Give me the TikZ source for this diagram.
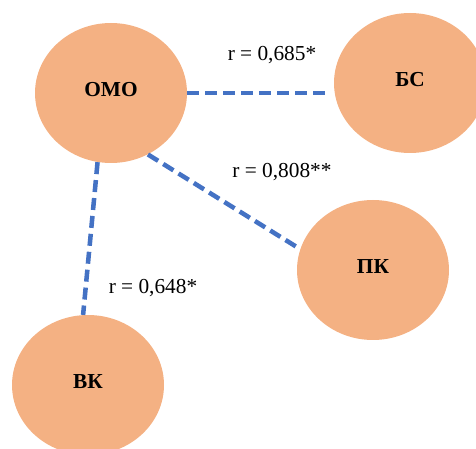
\documentclass[tikz,border=0pt]{standalone}
\usepackage{fontspec}
\setmainfont{Liberation Serif}
\usepackage{tikz}
\usetikzlibrary{shapes.geometric}
\definecolor{peach}{HTML}{F4B183}
\definecolor{linkblue}{HTML}{4472C4}

\begin{document}
\begin{tikzpicture}[x=0.75pt, y=-0.75pt, font=\fontsize{16}{19}\selectfont,
        main/.style = {ellipse, fill=peach, minimum width=114pt, minimum height=105pt, inner sep=0pt, text depth=5pt, font=\fontsize{16}{19}\selectfont\bfseries},
        link/.style = {draw=linkblue, line width=3.4pt, dash pattern=on 9pt off 4.5pt}]
                \useasboundingbox (0,0) rectangle (476,449);
                \node[main] (omo) at (111,93) {ОМО};
                \node[main] (bs) at (410,83) {БС};
                \node[main] (pk) at (373,270) {ПК};
                \node[main] (vk) at (88,385) {ВК};
                \node (r1) at (272,55) {r = 0,685*};
                \node (r2) at (282,172) {r = 0,808**};
                \node (r3) at (153,288) {r = 0,648*};
                \draw[link] (omo.east) -- ([xshift=-4pt]omo.east -| bs.west);
                \draw[link] (omo.-59) -- (pk.164);
                \draw[link] (omo.-101) -- (vk.94);
            \end{tikzpicture}
\end{document}
